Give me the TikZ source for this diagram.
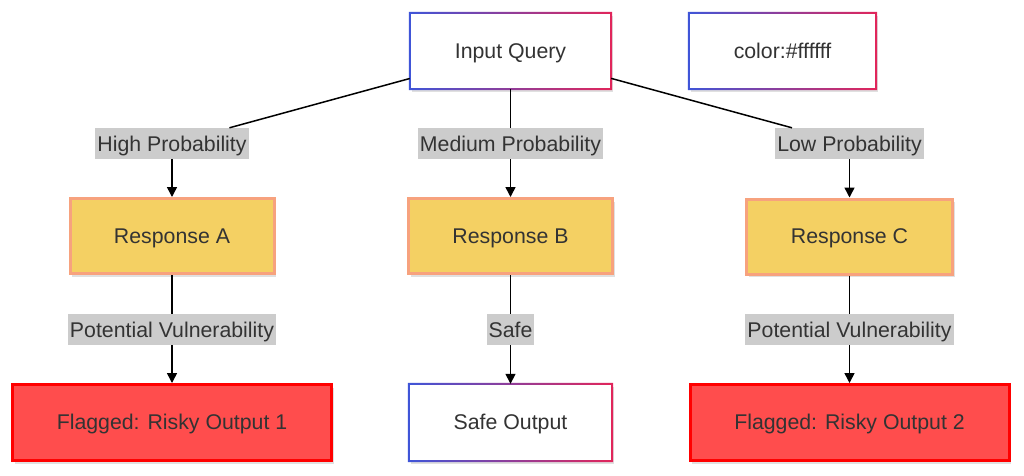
\documentclass[tikz,border=0pt]{standalone}
\usepackage{fontspec}
\setmainfont{Liberation Sans}
\usetikzlibrary{arrows.meta,shadows}
\definecolor{txt}{HTML}{333333}
\definecolor{gblue}{HTML}{3F55D8}
\definecolor{gred}{HTML}{E2255A}
\definecolor{respfill}{HTML}{F4D063}
\definecolor{respline}{HTML}{F7A27E}
\definecolor{flagfill}{HTML}{FF4D4D}
\definecolor{flagline}{HTML}{FF0000}
\definecolor{labfill}{HTML}{CCCCCC}
\newcommand\gradframe[1]{%
  \shade[left color=gblue,right color=gred,even odd rule]
    ([shift={(-1,-1)}]#1.north west) rectangle ([shift={(1,1)}]#1.south east)
    ([shift={(1,1)}]#1.north west) rectangle ([shift={(-1,-1)}]#1.south east);}
\begin{document}
\begin{tikzpicture}[x=1pt,y=-1pt,
  every node/.style={font=\fontsize{21.3}{25}\selectfont, text=txt},
  softshadow/.style={drop shadow={opacity=0.12, shadow xshift=2pt, shadow yshift=-3pt, fill=black}},
  box/.style={inner sep=0pt, align=center, text height=17pt, text depth=3pt, softshadow},
  gradbox/.style={box, fill=white, minimum height=76pt},
  resp/.style={box, minimum width=204pt, minimum height=75pt, fill=respfill, draw=respline, line width=3pt},
  flag/.style={box, minimum width=319pt, minimum height=76pt, fill=flagfill, draw=flagline, line width=3pt},
  lab/.style={fill=labfill, inner xsep=2pt, inner ysep=5.5pt, text height=17.5pt, text depth=2.5pt},
  edge/.style={line width=1.5pt, black},
  arr/.style={edge, -{Triangle[length=10pt,width=10pt]}}
]
\useasboundingbox[fill=white] (0,0) rectangle (1024,475);

% top row
\node[gradbox, minimum width=201pt] (in) at (510.5,51) {Input Query};
\node[gradbox, minimum width=187pt] (col) at (782.5,51) {color:\#ffffff};
\gradframe{in}
\gradframe{col}

% responses
\node[resp] (rA) at (172,236) {Response A};
\node[resp] (rB) at (510.5,236) {Response B};
\node[resp, minimum width=206pt] (rC) at (849.5,236.5) {Response C};

% outputs
\node[flag] (f1) at (172,422.5) {Flagged: Risky Output 1};
\node[gradbox, minimum width=203pt, minimum height=77pt] (so) at (510.5,422.5) {Safe Output};
\gradframe{so}
\node[flag] (f2) at (849.5,422.5) {Flagged: Risky Output 2};

% labels
\node[lab] (lA) at (172,143.5) {High Probability};
\node[lab] (lB) at (510.5,143.5) {Medium Probability};
\node[lab] (lC) at (849.5,143.5) {Low Probability};
\node[lab] (lD) at (172,329.5) {Potential Vulnerability};
\node[lab] (lE) at (510.5,329.5) {Safe};
\node[lab] (lF) at (849.5,329.5) {Potential Vulnerability};

% edges
\draw[edge] (in) -- (lA);
\draw[arr] (lA) -- (rA);
\draw[edge] (in) -- (lB);
\draw[arr] (lB) -- (rB);
\draw[edge] (in) -- (lC);
\draw[arr] (lC) -- (rC);
\draw[edge] (rA) -- (lD);
\draw[arr] (lD) -- (f1);
\draw[edge] (rB) -- (lE);
\draw[arr] (lE) -- (so);
\draw[edge] (rC) -- (lF);
\draw[arr] (lF) -- (f2);
\end{tikzpicture}
\end{document}
